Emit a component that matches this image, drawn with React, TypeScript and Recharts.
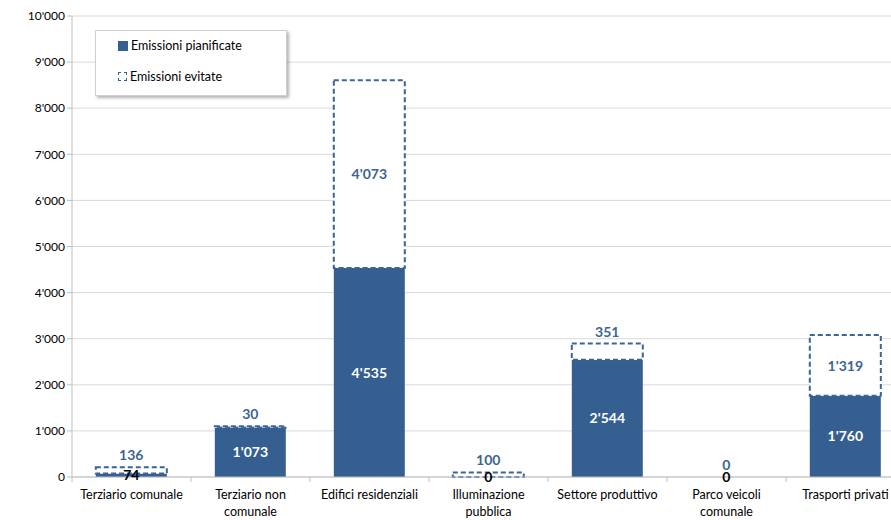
import React from 'react';
import { BarChart, Bar, XAxis, YAxis, CartesianGrid, LabelList, Rectangle } from 'recharts';

const categories = [
  'Terziario comunale',
  'Terziario non\ncomunale',
  'Edifici residenziali',
  'Illuminazione\npubblica',
  'Settore produttivo',
  'Parco veicoli\ncomunale',
  'Trasporti privati',
];
const planned = [74, 1073, 4535, 0, 2544, 0, 1760];
const avoided = [136, 30, 4073, 100, 351, 0, 1319];
const yTicks = [0, 1000, 2000, 3000, 4000, 5000, 6000, 7000, 8000, 9000, 10000];
const seriesNames = ['Emissioni pianificate', 'Emissioni evitate'];

const data = categories.map((name, i) => ({ name, planned: planned[i], avoided: avoided[i] }));

const FONT = 'Lato, "Liberation Sans", sans-serif';
const BLUE = '#365F91';
const LABEL_BLUE = '#3C6497';
const AXIS = '#BFBFBF';

const fmt = (v: number) => String(v).replace(/\B(?=(\d{3})+(?!\d))/g, "'");

const XTick = (props: any) => {
  const { x, y, payload, width, visibleTicksCount, index } = props;
  const lines = String(payload.value).split('\n');
  const half = width / (visibleTicksCount || 7) / 2;
  return (
    <g>
      <line x1={x + half} x2={x + half} y1={y} y2={y + 5} stroke={AXIS} />
      {index === 0 && <line x1={x - half} x2={x - half} y1={y} y2={y + 5} stroke={AXIS} />}
      {lines.map((l, i) => (
        <text key={i} x={x} y={y + 22 + i * 17} textAnchor="middle" fontSize={12.5} fill="#000" fontFamily={FONT}>
          {l}
        </text>
      ))}
    </g>
  );
};

const PlannedLabel = (props: any) => {
  const { x, y, width, height, value } = props;
  const small = value < 500;
  return (
    <text x={x + width / 2} y={y + height / 2} dy="0.36em" textAnchor="middle" fontSize={14} fontWeight="bold"
      fill={small ? '#000' : '#fff'} fontFamily={FONT}>
      {fmt(value)}
    </text>
  );
};

const AvoidedLabel = (props: any) => {
  const { x, y, width, height, value } = props;
  const small = value < 500;
  const cy = small ? y - 12 : y + height / 2;
  return (
    <text x={x + width / 2} y={cy} dy="0.36em" textAnchor="middle" fontSize={14} fontWeight="bold"
      fill={LABEL_BLUE} fontFamily={FONT}>
      {fmt(value)}
    </text>
  );
};

const SafeShape = (props: any) => {
  if (!props.height || Math.abs(props.height) < 0.5) return <g />;
  return <Rectangle {...props} />;
};

export default function App() {
  return (
    <div style={{ position: 'fixed', left: 0, top: 0, width: 891, height: 520, overflow: 'hidden', background: '#fff' }}>
      <BarChart width={905} height={520} data={data} margin={{ top: 16, right: 0, bottom: 0, left: 0 }} barCategoryGap="20%">
        <CartesianGrid vertical={false} stroke="#D9D9D9" />
        <XAxis dataKey="name" height={43} tick={<XTick />} tickLine={false} tickSize={0} tickMargin={0}
          axisLine={{ stroke: AXIS }} interval={0} />
        <YAxis width={72} domain={[0, 10000]} ticks={yTicks} tickFormatter={fmt} axisLine={{ stroke: AXIS }}
          tickLine={{ stroke: AXIS }} tickSize={5}
          tick={{ fontSize: 12, fill: '#000', fontFamily: FONT }} interval={0} />
        <Bar dataKey="planned" stackId="a" fill={BLUE} isAnimationActive={false} name={seriesNames[0]}
          minPointSize={0.01} shape={<SafeShape />}>
          <LabelList dataKey="planned" content={<PlannedLabel />} />
        </Bar>
        <Bar dataKey="avoided" stackId="a" fill="#fff" stroke={LABEL_BLUE} strokeWidth={2} strokeDasharray="5 3"
          isAnimationActive={false} name={seriesNames[1]} minPointSize={0.01} shape={<SafeShape />}>
          <LabelList dataKey="avoided" content={<AvoidedLabel />} />
        </Bar>
      </BarChart>
      <div style={{ position: 'absolute', left: 95, top: 30, width: 192, height: 66, boxSizing: 'border-box',
        border: '1px solid #D0D0D0', boxShadow: '2px 2px 3px rgba(0,0,0,0.3)', background: '#fff',
        fontFamily: FONT, fontSize: 12.5, color: '#000' }}>
        <div style={{ position: 'absolute', left: 22, top: 7, display: 'flex', alignItems: 'center' }}>
          <span style={{ display: 'inline-block', width: 10, height: 10, background: BLUE, marginRight: 3 }} />
          {seriesNames[0]}
        </div>
        <div style={{ position: 'absolute', left: 22, top: 38, display: 'flex', alignItems: 'center' }}>
          <span style={{ display: 'inline-block', width: 7, height: 7, border: `1.5px dashed ${BLUE}`, marginRight: 3 }} />
          {seriesNames[1]}
        </div>
      </div>
    </div>
  );
}
